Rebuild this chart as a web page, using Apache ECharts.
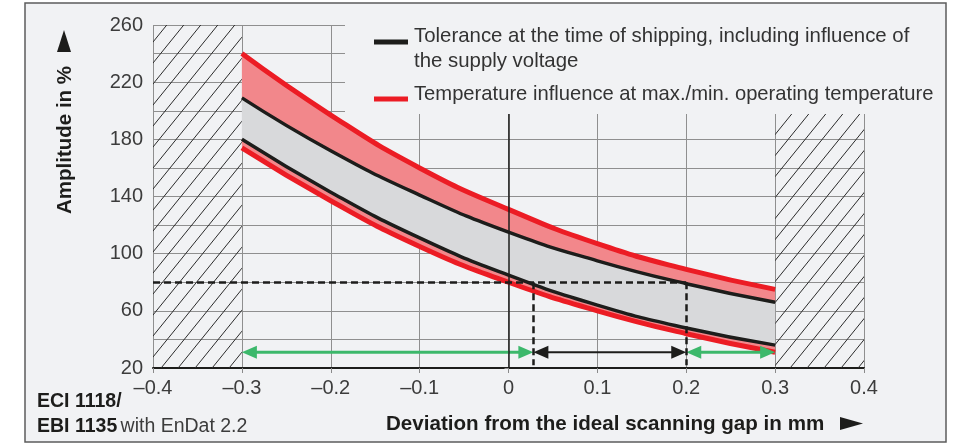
<!DOCTYPE html>
<html>
<head>
<meta charset="utf-8">
<script src="https://cdn.jsdelivr.net/npm/echarts@6/dist/echarts.min.js"></script>
<style>
  html, body { margin: 0; padding: 0; background: #fff; }
  #chart { width: 966px; height: 444px; }
</style>
</head>
<body>
<div id="chart"></div>
<script>
// x positions (deviation in mm) where the curves were read
const gapValues = [-0.3, -0.2, -0.1, 0, 0.1, 0.2, 0.3]
// tick labels of the x axis
const gapTicks = [-0.4, -0.3, -0.2, -0.1, 0, 0.1, 0.2, 0.3, 0.4]

// amplitude in %
const redUpper = [240, 197, 160, 131, 107, 89, 75]
const blackUpper = [209, 172, 141, 115, 95, 79, 66]
const blackLower = [180, 143, 111, 85, 64, 48, 36]
const redLower = [174, 137, 105, 80, 60, 44, 31]

// operating example
const refLevel = 80
const cutLow = 0.028
const cutHigh = 0.2
const arrowLevel = 31
const dashFloor = 22
const arrows = [
  [-0.3, cutLow, arrowLevel],
  [cutLow, cutHigh, arrowLevel],
  [cutHigh, 0.3, arrowLevel]
]
const arrowColors = ['#3cb86b', '#1d1d1b', '#3cb86b']

const FONT = '"Liberation Sans", Arial, sans-serif'
const RED = '#ec1c24'
const BLACK = '#1d1d1b'
const BG = '#f1f2f4'

// pad values for the hidden category axis (-0.4 .. 0.4)
const pad = arr => [null, ...arr, null]
const diff = (a, b) => pad(a.map((v, i) => v - b[i]))

const makeHatch = () => {
  const c = document.createElement('canvas')
  c.width = 17
  c.height = 21
  const ctx = c.getContext('2d')
  ctx.strokeStyle = '#2a2a2a'
  ctx.lineWidth = 1
  ctx.beginPath()
  for (const dx of [-17, 0, 17]) {
    ctx.moveTo(dx, 21)
    ctx.lineTo(dx + 17, 0)
  }
  ctx.stroke()
  return c
}

const chart = echarts.init(document.getElementById('chart'))

const bandSeries = (name, data, color) => ({
  name,
  type: 'line',
  xAxisIndex: 1,
  stack: 'band',
  smooth: 0.5,
  symbol: 'none',
  silent: true,
  data,
  lineStyle: { width: 0, opacity: 0 },
  areaStyle: { color, opacity: color ? 1 : 0 },
  z: 2
})

const curveSeries = (name, data, color, width) => ({
  name,
  type: 'line',
  xAxisIndex: 1,
  smooth: 0.5,
  symbol: 'none',
  silent: true,
  data: pad(data),
  lineStyle: { color, width },
  z: 3
})

const option = {
  animation: false,
  backgroundColor: '#fff',
  grid: { left: 153, right: 102, top: 25, bottom: 76 },
  xAxis: [
    {
      type: 'value',
      min: -0.4,
      max: 0.4,
      interval: 0.1,
      axisLine: { onZero: false, lineStyle: { color: BLACK, width: 2 } },
      axisTick: { length: 5, lineStyle: { color: '#8a8a8a' } },
      axisLabel: {
        margin: 10,
        fontSize: 20,
        color: '#3c3c3c',
        fontFamily: FONT,
        formatter: v => {
          const r = Math.round(v * 10) / 10
          if (r === 0) return '0'
          return (r < 0 ? '–' : '') + Math.abs(r).toFixed(1)
        }
      },
      splitLine: { show: true, lineStyle: { color: '#8f8f8f', width: 1 } }
    },
    {
      type: 'category',
      data: gapTicks.map(String),
      boundaryGap: false,
      show: false
    }
  ],
  yAxis: {
    type: 'value',
    min: 20,
    max: 260,
    interval: 20,
    axisLine: { show: false },
    axisTick: { show: true, length: 4, lineStyle: { color: '#8a8a8a' } },
    axisLabel: {
      margin: 10,
      fontSize: 20,
      color: '#3c3c3c',
      fontFamily: FONT,
      formatter: v => ((v - 20) % 40 === 0 ? String(v) : '')
    },
    splitLine: { lineStyle: { color: '#8f8f8f', width: 1 } }
  },
  series: [
    {
      name: 'marks',
      type: 'line',
      xAxisIndex: 0,
      data: [],
      silent: true,
      markArea: {
        silent: true,
        itemStyle: { color: { image: makeHatch(), repeat: 'repeat' } },
        data: [
          [{ coord: [-0.4, 20] }, { coord: [-0.3, 260] }],
          [{ coord: [0.3, 20] }, { coord: [0.4, 260] }]
        ]
      },
      markLine: {
        silent: true,
        symbol: 'none',
        label: { show: false },
        lineStyle: { color: BLACK, width: 2.5, type: [7, 4] },
        data: [
          [{ coord: [0, 20], lineStyle: { type: 'solid', width: 1.5 } }, { coord: [0, 260] }],
          [{ coord: [-0.4, refLevel] }, { coord: [cutHigh, refLevel] }],
          [{ coord: [cutLow, refLevel] }, { coord: [cutLow, dashFloor] }],
          [{ coord: [cutHigh, refLevel] }, { coord: [cutHigh, dashFloor] }]
        ]
      }
    },
    bandSeries('base', pad(redLower), null),
    bandSeries('lowTemp', diff(blackLower, redLower), '#f2878b'),
    bandSeries('tolerance', diff(blackUpper, blackLower), '#d8d9db'),
    bandSeries('highTemp', diff(redUpper, blackUpper), '#f2878b'),
    curveSeries('Temperature upper', redUpper, RED, 5),
    curveSeries('Temperature lower', redLower, RED, 5),
    curveSeries('Tolerance upper', blackUpper, BLACK, 3.5),
    curveSeries('Tolerance lower', blackLower, BLACK, 3.5),
    {
      name: 'arrows',
      type: 'custom',
      xAxisIndex: 0,
      silent: true,
      data: arrows,
      encode: { x: [0, 1], y: 2 },
      z: 4,
      renderItem: (params, api) => {
        const p1 = api.coord([api.value(0), api.value(2)])
        const p2 = api.coord([api.value(1), api.value(2)])
        const color = arrowColors[params.dataIndex]
        const L = 15
        const W = 6.5
        return {
          type: 'group',
          children: [
            {
              type: 'line',
              shape: { x1: p1[0] + L - 2, y1: p1[1], x2: p2[0] - L + 2, y2: p2[1] },
              style: { stroke: color, lineWidth: color === BLACK ? 2 : 3 }
            },
            {
              type: 'polygon',
              shape: { points: [[p1[0], p1[1]], [p1[0] + L, p1[1] - W], [p1[0] + L, p1[1] + W]] },
              style: { fill: color }
            },
            {
              type: 'polygon',
              shape: { points: [[p2[0], p2[1]], [p2[0] - L, p2[1] - W], [p2[0] - L, p2[1] + W]] },
              style: { fill: color }
            }
          ]
        }
      }
    }
  ],
  graphic: [
    {
      type: 'rect',
      z: -10,
      shape: { x: 25, y: 3, width: 921, height: 439 },
      style: { fill: BG, stroke: '#5c5c5c', lineWidth: 1.5 }
    },
    {
      type: 'rect',
      z: 50,
      shape: { x: 345, y: 4, width: 600, height: 110 },
      style: { fill: BG }
    },
    {
      type: 'line',
      z: 51,
      shape: { x1: 374, y1: 42, x2: 408, y2: 42 },
      style: { stroke: BLACK, lineWidth: 5 }
    },
    {
      type: 'line',
      z: 51,
      shape: { x1: 374, y1: 99, x2: 408, y2: 99 },
      style: { stroke: RED, lineWidth: 5 }
    },
    {
      type: 'text',
      z: 51,
      x: 414,
      y: 36,
      style: {
        text: 'Tolerance at the time of shipping, including influence of',
        fill: '#333', font: '20.4px ' + FONT, verticalAlign: 'middle'
      }
    },
    {
      type: 'text',
      z: 51,
      x: 414,
      y: 61,
      style: { text: 'the supply voltage', fill: '#333', font: '20.4px ' + FONT, verticalAlign: 'middle' }
    },
    {
      type: 'text',
      z: 51,
      x: 414,
      y: 94,
      style: {
        text: 'Temperature influence at max./min. operating temperature',
        fill: '#333', font: '20.2px ' + FONT, verticalAlign: 'middle'
      }
    },
    {
      type: 'text',
      z: 51,
      x: 65,
      y: 140,
      rotation: Math.PI / 2,
      style: {
        text: 'Amplitude in %',
        fill: BLACK, font: 'bold 20.5px ' + FONT, align: 'center', verticalAlign: 'middle'
      }
    },
    {
      type: 'polygon',
      z: 51,
      shape: { points: [[57, 52], [71, 52], [64, 30]] },
      style: { fill: BLACK }
    },
    {
      type: 'text',
      z: 51,
      x: 386,
      y: 424,
      style: {
        text: 'Deviation from the ideal scanning gap in mm',
        fill: BLACK, font: 'bold 20.6px ' + FONT, verticalAlign: 'middle'
      }
    },
    {
      type: 'polygon',
      z: 51,
      shape: { points: [[840, 417], [840, 430], [863, 423.5]] },
      style: { fill: BLACK }
    },
    {
      type: 'text',
      z: 51,
      x: 37,
      y: 402,
      style: { text: 'ECI 1118/', fill: BLACK, font: 'bold 19.5px ' + FONT, verticalAlign: 'middle' }
    },
    {
      type: 'text',
      z: 51,
      x: 37,
      y: 427,
      style: {
        text: '{b|EBI 1135} {n|with EnDat 2.2}',
        verticalAlign: 'middle',
        rich: {
          b: { fill: BLACK, fontWeight: 'bold', fontSize: 19.5, fontFamily: FONT },
          n: { fill: '#3c3c3c', fontSize: 19.5, fontFamily: FONT }
        }
      }
    }
  ]
}

chart.setOption(option)
window.addEventListener('resize', () => chart.resize())
</script>
</body>
</html>
